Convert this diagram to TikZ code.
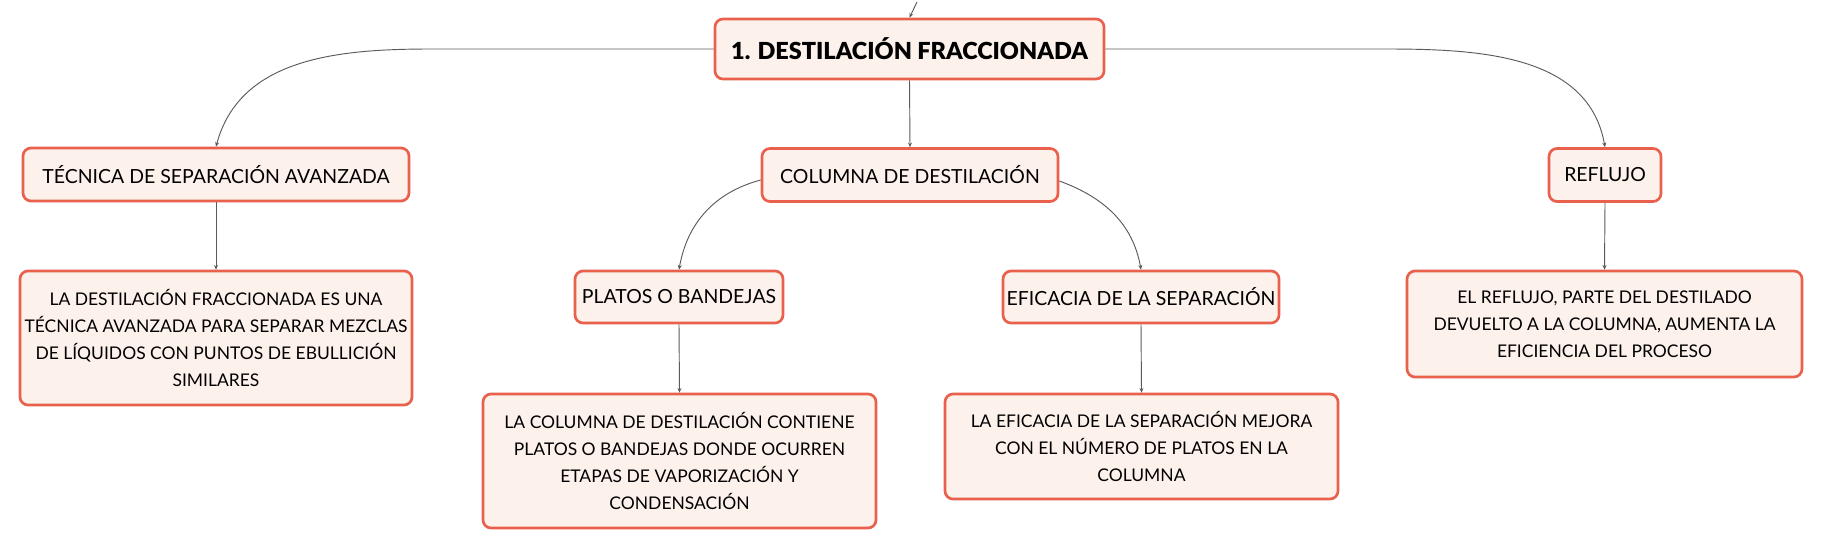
\documentclass[tikz,border=0pt]{standalone}
\usepackage{fontspec}
\setmainfont{Lato}
\newfontfamily\titlefont{Lato Black}
\usepackage{tikz}
\usetikzlibrary{arrows.meta}
\definecolor{boxline}{HTML}{E9614C}
\definecolor{boxfill}{HTML}{FDF1EC}
\definecolor{linkgray}{HTML}{5A5A5A}
\tikzset{>=stealth}
\tikzset{
  box/.style={draw=boxline, line width=2pt, fill=boxfill, rounded corners=6pt,
    align=center, inner sep=0pt, font=\fontsize{14.6}{20}\selectfont},
  descbox/.style={box, font=\fontsize{13.1}{20.25}\selectfont}, 
  link/.style={linkgray, line width=0.7pt, -{Stealth[length=3.5pt,width=3pt]}}
}

\begin{document}
\begin{tikzpicture}[x=0.75pt,y=0.75pt]
        \useasboundingbox (0,0) rectangle (1821,-549);
        % main topic
        \node[box, minimum width=291.75pt, minimum height=45pt, font=\fontsize{17.6}{21}\titlefont] (root) at (909.5,-49) {1. DESTILACIÓN FRACCIONADA};
        % first level
        \node[box, minimum width=289.5pt, minimum height=39.75pt] (tec) at (216,-174.5) {TÉCNICA DE SEPARACIÓN AVANZADA};
        \node[box, minimum width=222pt, minimum height=39.75pt] (col) at (910,-175) {COLUMNA DE DESTILACIÓN};
        \node[box, minimum width=84pt, minimum height=39.75pt] (ref) at (1605,-175) {REFLUJO};
        % second level
        \node[box, minimum width=156pt, minimum height=39pt] (pla) at (679,-297) {PLATOS O BANDEJAS};
        \node[box, minimum width=207pt, minimum height=39pt] (efi) at (1141,-297) {EFICACIA DE LA SEPARACIÓN};
        % descriptions
        \node[descbox, minimum width=294pt, minimum height=100.5pt] (tecd) at (216,-338) {LA DESTILACIÓN FRACCIONADA ES UNA\\TÉCNICA AVANZADA PARA SEPARAR MEZCLAS\\DE LÍQUIDOS CON PUNTOS DE EBULLICIÓN\\SIMILARES};
        \node[descbox, minimum width=294.75pt, minimum height=100.5pt] (plad) at (679.5,-461) {LA COLUMNA DE DESTILACIÓN CONTIENE\\PLATOS O BANDEJAS DONDE OCURREN\\ETAPAS DE VAPORIZACIÓN Y\\CONDENSACIÓN};
        \node[descbox, minimum width=294.75pt, minimum height=78.75pt] (efid) at (1141.5,-446.5) {LA EFICACIA DE LA SEPARACIÓN MEJORA\\CON EL NÚMERO DE PLATOS EN LA\\COLUMNA};
        \node[descbox, minimum width=296.25pt, minimum height=79.5pt] (refd) at (1604.5,-324) {EL REFLUJO, PARTE DEL DESTILADO\\DEVUELTO A LA COLUMNA, AUMENTA LA\\EFICIENCIA DEL PROCESO};
        % connectors
        \coordinate (up) at (917,-2);
        \coordinate (lbend) at (432,-49);
        \coordinate (rbend) at (1385,-49);
        \draw[link] (up) -- (root.north);
        \draw[link] (root.west) -- (lbend) to[out=180,in=75] (tec.north);
        \draw[link] (root.south) -- (col.north);
        \draw[link] (root.east) -- (rbend) to[out=0,in=100] (ref.north);
        \draw[link] ([yshift=-3.75pt]col.west) to[out=195,in=80] (pla.north);
        \draw[link] ([yshift=-4.5pt]col.east) to[out=-20,in=100] (efi.north);
        \draw[link] (tec.south) -- (tecd.north);
        \draw[link] (pla.south) -- (plad.north);
        \draw[link] (efi.south) -- (efid.north);
        \draw[link] (ref.south) -- (refd.north);
      \end{tikzpicture}
\end{document}
